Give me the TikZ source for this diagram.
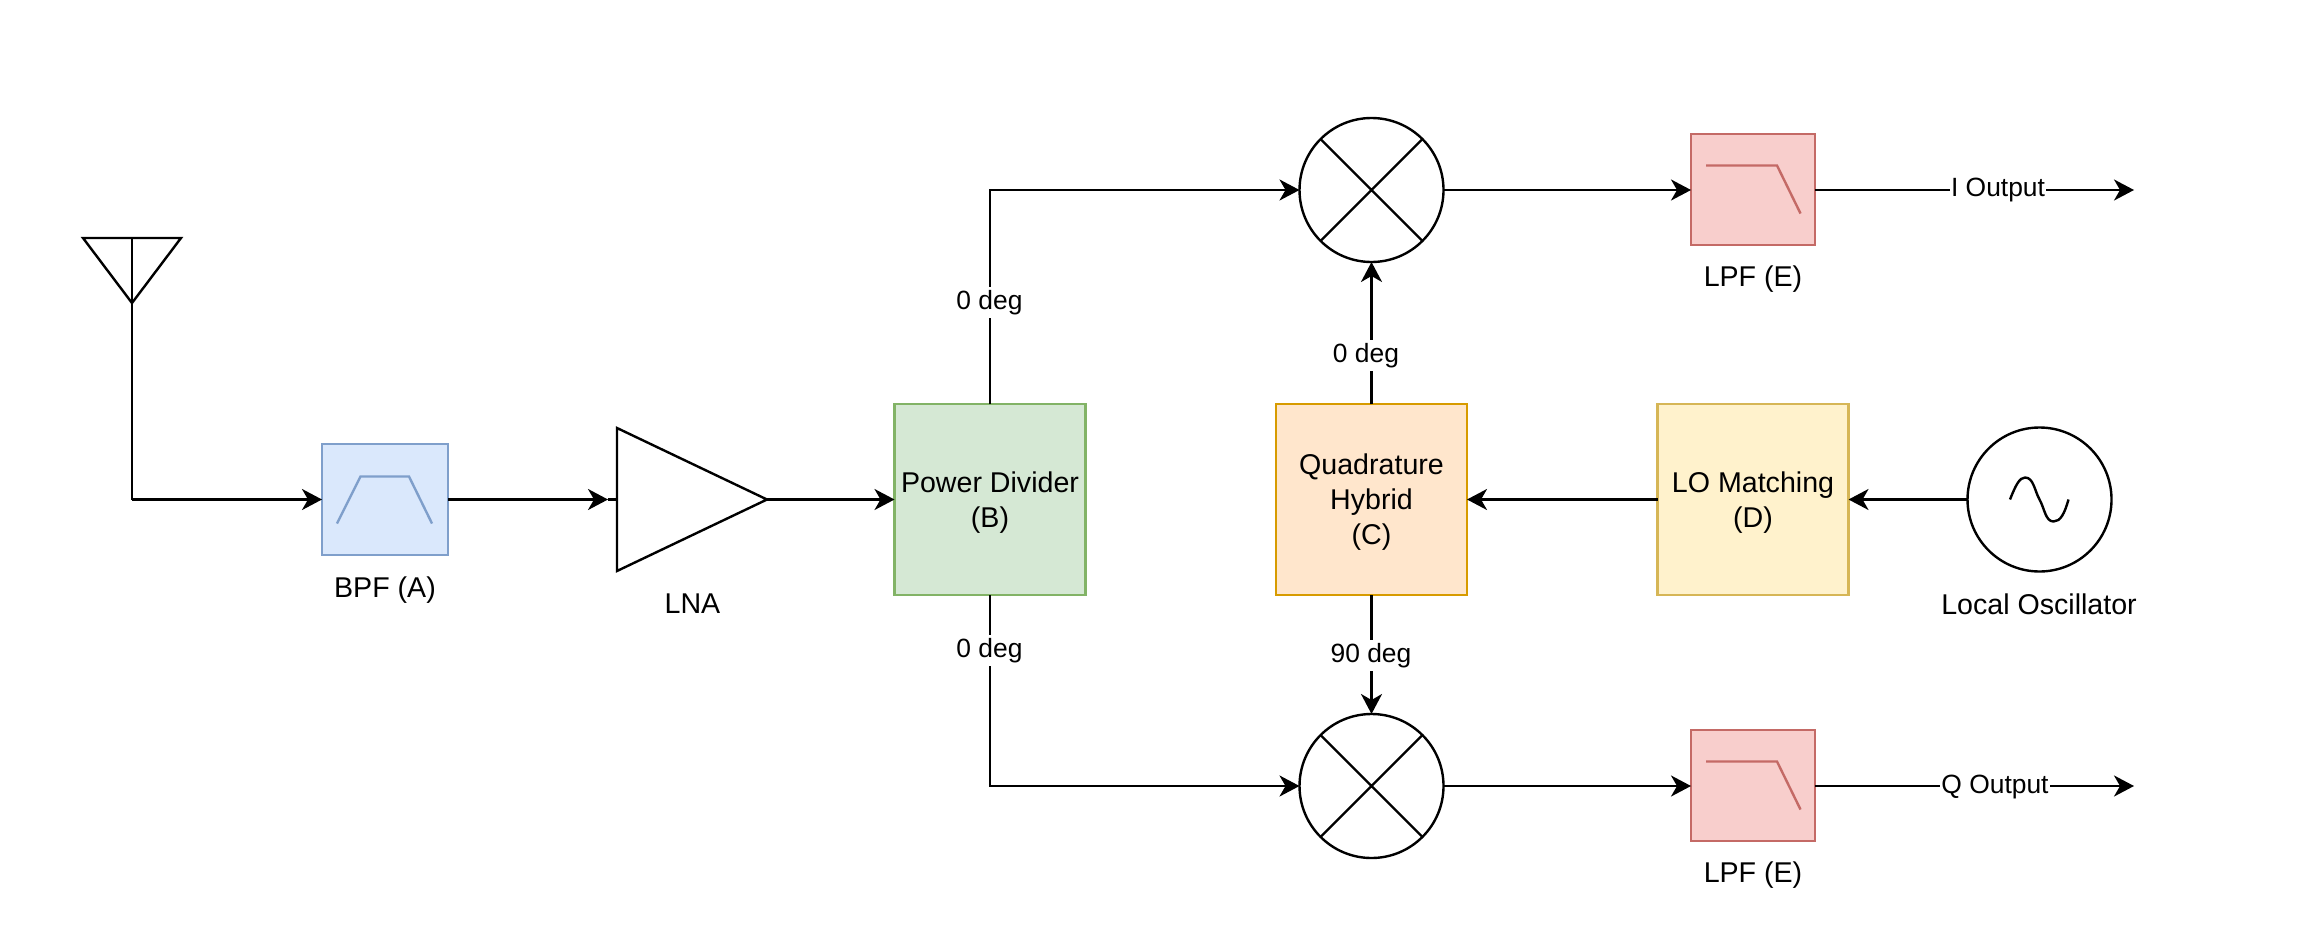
\documentclass[tikz,border=0pt]{standalone}
\usepackage{fontspec}
\setmainfont{Liberation Sans}
\usetikzlibrary{arrows.meta}
\definecolor{bpffill}{HTML}{DAE8FC}\definecolor{bpfline}{HTML}{7F9FCB}
\definecolor{pdfill}{HTML}{D5E8D4}\definecolor{pdline}{HTML}{82B366}
\definecolor{qhfill}{HTML}{FFE6CC}\definecolor{qhline}{HTML}{D79B00}
\definecolor{lofill}{HTML}{FFF2CC}\definecolor{loline}{HTML}{D6B656}
\definecolor{lpffill}{HTML}{F8CECC}\definecolor{lpfline}{HTML}{C46A66}
\tikzset{
 x=1pt,y=-1pt,
 every node/.style={font=\fontsize{28.6}{35}\selectfont,align=center,inner sep=0pt,outer sep=0pt},
 every path/.style={line width=2.4pt,line join=miter},
 arr/.style={-{Stealth[length=20pt,width=21pt,inset=6pt]}},
 block/.style={draw,rectangle,minimum width=191pt,minimum height=191pt},
 flt/.style={draw,rectangle,minimum width=#1,minimum height=111pt},
 rnd/.style={draw,circle,minimum size=144pt,fill=white},
 lab/.style={fill=white,font=\fontsize{26.4}{30}\selectfont,inner xsep=1pt,inner ysep=1pt,text height=22pt,text depth=7pt},
}
\begin{document}
\begin{tikzpicture}
\useasboundingbox (0,0) rectangle (2314,934);
% antenna
\coordinate (antL) at (83,238);\coordinate (antR) at (181,238);
\coordinate (antT) at (132,238);\coordinate (antA) at (132,303);
\coordinate (antC) at (132,499.5);
\draw (antL) -- (antR) -- (antA) -- cycle;
\draw (antT) -- (antC);
% blocks
\node[flt=126pt,fill=bpffill,draw=bpfline] (bpf) at (385,499.5) {};
\node (bpfl) at (385,590) {BPF (A)};
% LNA
\coordinate (lnaT) at (617,428);\coordinate (lnaB) at (617,571);
\coordinate (lnaW) at (617,499.5);\coordinate (lnaA) at (767,499.5);
\coordinate (lnaTip) at (608,499.5);
\draw (lnaT) -- (lnaA) -- (lnaB) -- cycle;
\node (lnal) at (692.5,604) {LNA};
\node[block,fill=pdfill,draw=pdline] (pd) at (990,499.5) {};
\node[block,fill=qhfill,draw=qhline] (qh) at (1371.5,499.5) {};
\node[block,fill=lofill,draw=loline] (lo) at (1753,499.5) {};
\node (pdt) at (990,502.5) {Power Divider\\(B)};
\node (qht) at (1371.5,502.5) {Quadrature\\Hybrid\\(C)};
\node (lot) at (1753,502.5) {LO Matching\\(D)};
\node[rnd] (osc) at (2039.5,499.5) {};
\node (oscl) at (2039,604) {Local Oscillator};
\node[rnd] (mi) at (1371.5,190) {};
\node[rnd] (mq) at (1371.5,786) {};
\draw (mi.45) -- (mi.225) (mi.135) -- (mi.315);
\draw (mq.45) -- (mq.225) (mq.135) -- (mq.315);
\node[flt=124pt,fill=lpffill,draw=lpfline] (lpfi) at (1753,189.5) {};
\node[flt=124pt,fill=lpffill,draw=lpfline] (lpfq) at (1753,785.5) {};
\node (lpfil) at (1753,279) {LPF (E)};
\node (lpfql) at (1753,875) {LPF (E)};
% filter glyphs
\draw[bpfline] ([shift={(-48,24)}]bpf.center) -- ([shift={(-24.5,-23)}]bpf.center) -- ([shift={(24,-23)}]bpf.center) -- ([shift={(47,24)}]bpf.center);
\draw[lpfline] ([shift={(-47,-24)}]lpfi.center) -- ([shift={(24,-24)}]lpfi.center) -- ([shift={(47.5,24)}]lpfi.center);
\draw[lpfline] ([shift={(-47,-24)}]lpfq.center) -- ([shift={(24,-24)}]lpfq.center) -- ([shift={(47.5,24)}]lpfq.center);
% sine
\draw ([shift={(-29.5,0)}]osc.center) .. controls ([shift={(-24,-14)}]osc.center) and ([shift={(-20,-22)}]osc.center) .. ([shift={(-14.5,-22)}]osc.center)
 .. controls ([shift={(-6,-22)}]osc.center) and ([shift={(-5,-9)}]osc.center) .. (osc.center)
 .. controls ([shift={(5,9)}]osc.center) and ([shift={(6,22)}]osc.center) .. ([shift={(14,22)}]osc.center)
 .. controls ([shift={(21,22)}]osc.center) and ([shift={(25,14)}]osc.center) .. ([shift={(29,0)}]osc.center);
% free ends
\coordinate (iend) at (2134,190);
\coordinate (qend) at (2134,786);
% connectors
\draw[arr] (antC) -- (bpf.west);
\draw[arr] (bpf.east) -- (lnaTip);
\draw (lnaTip) -- (lnaW);
\draw[arr] (lnaA) -- (pd.west);
\draw[arr] (pd.north) |- (mi.west);
\draw[arr] (pd.south) |- (mq.west);
\draw[arr] (qh.north) -- (mi.south);
\draw[arr] (qh.south) -- (mq.north);
\draw[arr] (lo.west) -- (qh.east);
\draw[arr] (osc.west) -- (lo.east);
\draw[arr] (mi.east) -- (lpfi.west |- mi.east);
\draw[arr] (mq.east) -- (lpfq.west |- mq.east);
\draw[arr] (lpfi.east |- iend) -- (iend);
\draw[arr] (lpfq.east |- qend) -- (qend);
% labels
\node[lab] (pd0u) at (989.5,302) {0 deg};
\node[lab] (pd0d) at (989.5,650) {0 deg};
\node[lab] (qh0) at (1366,355) {0 deg};
\node[lab] (qh90) at (1371,655) {90 deg};
\node[lab] (ilab) at (1998,189) {I Output};
\node[lab] (qlab) at (1995,786) {Q Output};
\end{tikzpicture}
\end{document}
